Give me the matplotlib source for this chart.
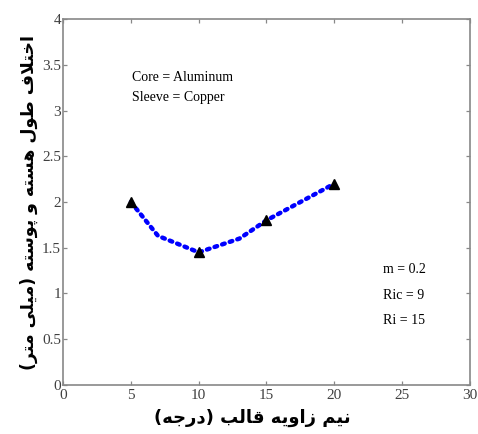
import numpy as np
import matplotlib
matplotlib.use('Agg')
import matplotlib.pyplot as plt

# half die angle (deg) vs core/sleeve length difference (mm)
angle = [5, 7, 10, 13, 15, 20]
diff = [2.0, 1.63, 1.45, 1.6, 1.8, 2.2]
mark_angle = [5, 10, 15, 20]
mark_diff = [2.0, 1.45, 1.8, 2.2]

xticks = [0, 5, 10, 15, 20, 25, 30]
yticks = [0, 0.5, 1, 1.5, 2, 2.5, 3, 3.5, 4]

# Persian labels written in visual order with presentation forms
x_label = ('(' + '\uFEEA\uFE9F\uFEAD\uFEA9' + ') '
           + '\uFE90\uFEDF\uFE8E\uFED7' + ' '
           + '\uFEEA\uFBFE\uFEED\uFE8D\uFEAF' + ' '
           + '\uFEE2\uFBFF\uFEE7')
y_label = ('(' + '\uFEAE\uFE98\uFEE3' + ' ' + '\uFBFD\uFEE0\uFBFF\uFEE3' + ') '
           + '\uFEEA\uFE98\uFEB3\uFEEE\uFB58' + ' ' + '\uFEED' + ' '
           + '\uFEEA\uFE98\uFEB4\uFEEB' + ' ' + '\uFEDD\uFEEE\uFEC3' + ' '
           + '\uFED1\uFEFC\uFE98\uFEA7\uFE8D')

serif = ['Liberation Serif', 'DejaVu Serif']

fig = plt.figure(figsize=(4.78, 4.34), dpi=100)
ax = fig.add_axes([0.132, 0.113, 0.851, 0.843])

ax.plot(angle, diff, color='blue', linestyle=(0, (0.6, 1.2)), linewidth=3.2,
        dash_capstyle='round')
ax.plot(mark_angle, mark_diff, linestyle='none', marker='^', color='black',
        markersize=7.5)

ax.set_xlim(0, 30)
ax.set_ylim(0, 4)
ax.set_xticks(xticks)
ax.set_yticks(yticks)
ax.set_xticklabels([str(t) for t in xticks], family=serif, fontsize=11, color='#404040')
ax.set_yticklabels(['0', '0.5', '1', '1.5', '2', '2.5', '3', '3.5', '4'],
                   family=serif, fontsize=11, color='#404040')
ax.tick_params(direction='in', top=True, right=True, length=3, width=0.9,
               color='#888888', pad=1.5)
ax.tick_params(axis='x', pad=3)
for s in ax.spines.values():
    s.set_color('#888888')
    s.set_linewidth(1.2)

ax.text(5.1, 3.36, 'Core = Aluminum', family=serif, fontsize=10, va='center')
ax.text(5.1, 3.14, 'Sleeve = Copper', family=serif, fontsize=10, va='center')
ax.text(23.6, 1.26, 'm = 0.2', family=serif, fontsize=10, va='center')
ax.text(23.6, 0.98, 'Ric = 9', family=serif, fontsize=10, va='center')
ax.text(23.6, 0.71, 'Ri = 15', family=serif, fontsize=10, va='center')

ax.set_xlabel(x_label, family=['DejaVu Sans'], fontsize=13, fontweight='bold')
ax.xaxis.set_label_coords(0.465, -0.065, transform=ax.transAxes)
ax.xaxis.label.set_verticalalignment('top')
ax.set_ylabel(y_label, family=['DejaVu Sans'], fontsize=12.5, fontweight='bold', labelpad=3)

plt.savefig('out.png', dpi=100)
